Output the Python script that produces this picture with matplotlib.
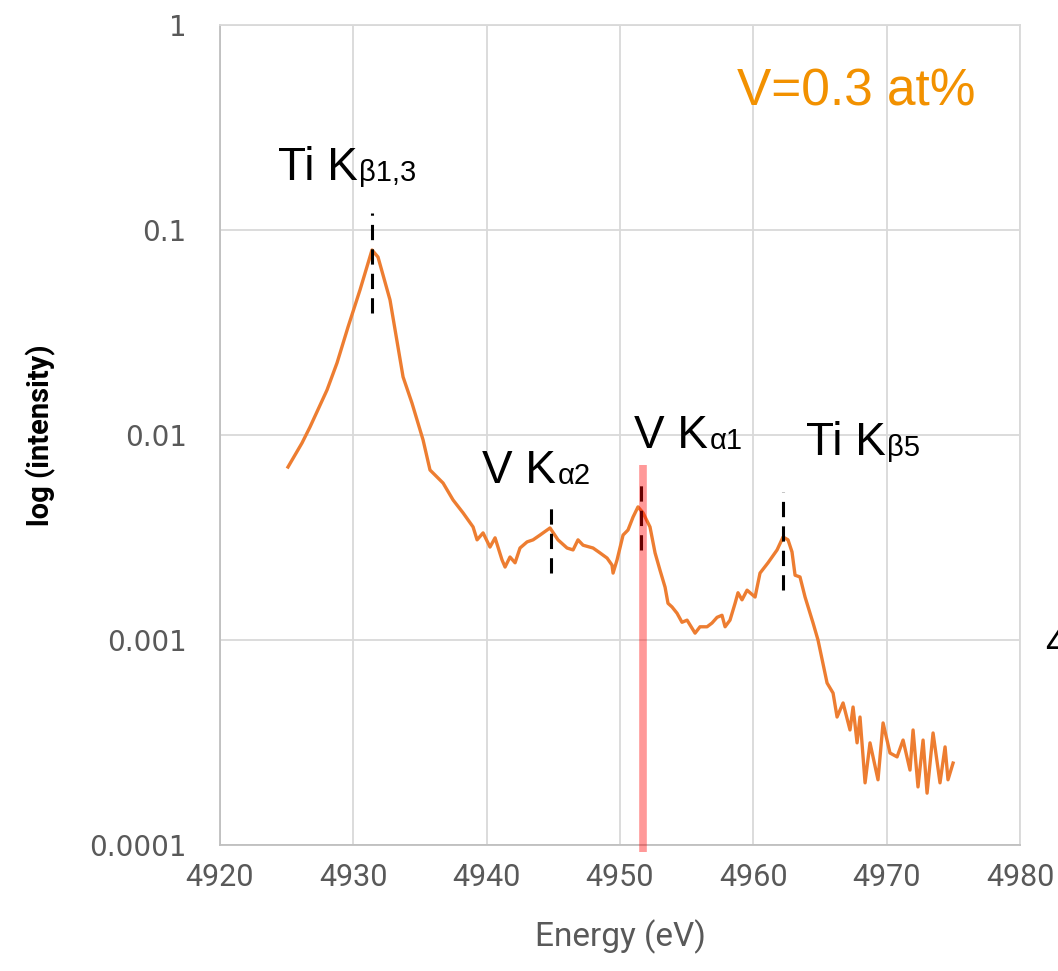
import numpy as np
import matplotlib
matplotlib.use("Agg")
import matplotlib.pyplot as plt

# espectro (energia en eV, intensidad)
energia = [4925.10, 4926.15, 4926.75, 4928.03, 4928.78, 4929.60, 4930.50, 4931.40,
           4931.85, 4932.75, 4933.73, 4934.40, 4935.23, 4935.75, 4936.73, 4937.48,
           4938.23, 4938.98, 4939.28, 4939.73, 4940.25, 4940.63, 4941.15, 4941.38,
           4941.75, 4942.13, 4942.50, 4943.03, 4943.48, 4944.00, 4944.75, 4945.35,
           4946.03, 4946.48, 4946.85, 4947.23, 4947.98, 4948.50, 4949.03, 4949.40,
           4949.48, 4949.78, 4950.23, 4950.60, 4950.98, 4951.35, 4951.73, 4952.25,
           4952.63, 4953.00, 4953.38, 4953.60, 4953.90, 4954.28, 4954.65, 4955.03,
           4955.63, 4956.00, 4956.53, 4956.90, 4957.28, 4957.65, 4957.88, 4958.25,
           4958.63, 4958.85, 4959.15, 4959.53, 4960.13, 4960.50, 4961.10, 4961.78,
           4962.23, 4962.60, 4962.90, 4963.13, 4963.50, 4963.88, 4964.48, 4964.85,
           4965.53, 4965.98, 4966.28, 4966.73, 4967.25, 4967.48, 4967.78, 4968.00,
           4968.38, 4968.75, 4969.35, 4969.73, 4970.25, 4970.78, 4971.23, 4971.75,
           4971.98, 4972.35, 4972.73, 4973.03, 4973.48, 4974.00, 4974.38, 4974.60,
           4974.98]
intensidad = [0.00698, 0.00914, 0.01094, 0.0166, 0.0225, 0.0336, 0.0510, 0.0799,
              0.0738, 0.0456, 0.0192, 0.0143, 0.00946, 0.00675, 0.00583, 0.00482,
              0.00417, 0.00356, 0.00308, 0.00333, 0.00284, 0.00315, 0.00246, 0.00227,
              0.00254, 0.00238, 0.00281, 0.00301, 0.00308, 0.00325, 0.00352, 0.00308,
              0.00281, 0.00275, 0.00308, 0.00290, 0.00281, 0.00266, 0.00251, 0.00232,
              0.00212, 0.00246, 0.00325, 0.00344, 0.00398, 0.00446, 0.00417, 0.00356,
              0.00266, 0.00219, 0.00181, 0.00151, 0.00145, 0.00135, 0.00122, 0.00125,
              0.00108, 0.00116, 0.00116, 0.00121, 0.00129, 0.00132, 0.00116, 0.00125,
              0.00151, 0.00170, 0.00157, 0.00175, 0.00162, 0.00212, 0.00238, 0.00275,
              0.00318, 0.00308, 0.00269, 0.00207, 0.00203, 0.00162, 0.00121, 0.00100,
              0.000617, 0.000551, 0.000421, 0.000493, 0.000364, 0.000471, 0.000315, 0.000421,
              0.000201, 0.000315, 0.000208, 0.000394, 0.000281, 0.000269, 0.000325, 0.000232,
              0.000364, 0.000192, 0.000325, 0.000179, 0.000352, 0.000201, 0.000301, 0.000208,
              0.000251]

# lineas de referencia (posicion, extremo superior, extremo inferior)
picos_e = [4931.4, 4944.8, 4951.58, 4962.2]
picos_sup = [0.121, 0.00471, 0.00603, 0.00527]
picos_inf = [0.0394, 0.00212, 0.00275, 0.00175]

# etiquetas: texto, subindice, x, y (linea base)
etiq_txt = ["Ti K", "V K", "V K", "Ti K"]
etiq_sub = ["β1,3", "α2", "α1", "β5"]
etiq_x = [4924.35, 4939.65, 4951.05, 4963.95]
etiq_y = [0.175, 0.00583, 0.00864, 0.00798]

linea_roja_e = 4951.7
linea_roja_sup = 0.00714
linea_roja_inf = 9.2e-5

x_ticks = [4920, 4930, 4940, 4950, 4960, 4970, 4980]
y_ticks = [1e-4, 1e-3, 1e-2, 1e-1, 1]
y_labels = ["0.0001", "0.001", "0.01", "0.1", "1"]

gris = "#D9D9D9"
naranja = "#ED7D31"
angosta = ["Liberation Sans Narrow", "Roboto", "DejaVu Sans"]

fig = plt.figure(figsize=(10.58, 9.71), dpi=100)
ax = fig.add_axes([220 / 1058, 1 - 845 / 971, 800 / 1058, 820 / 971])

ax.plot(energia, intensidad, color=naranja, lw=2.4, zorder=3)

for e, s, i in zip(picos_e, picos_sup, picos_inf):
    ax.plot([e, e], [i, s], color="black", lw=2.2, dashes=(5, 3), zorder=4)

# linea roja semitransparente por encima de las marcas
ax.plot([linea_roja_e, linea_roja_e], [linea_roja_inf, linea_roja_sup],
        color="red", alpha=0.4, lw=5.5, zorder=6, clip_on=False, solid_capstyle="butt")

ax.set_yscale("log")
ax.set_xlim(4920, 4980)
ax.set_ylim(1e-4, 1)
ax.set_xticks(x_ticks)
ax.set_xticklabels([str(v) for v in x_ticks])
ax.set_yticks(y_ticks)
ax.set_yticklabels(y_labels)
ax.minorticks_off()
ax.tick_params(length=0, colors="#595959")
ax.tick_params(axis="y", pad=24, labelsize=20)
ax.tick_params(axis="x", pad=13, labelsize=22)
for lab in ax.get_yticklabels():
    lab.set_family(["DejaVu Sans"])
for lab in ax.get_xticklabels():
    lab.set_family(angosta)

ax.grid(True, color=gris, lw=1.3, zorder=1)
ax.set_axisbelow(True)
for sp in ax.spines.values():
    sp.set_color(gris)
    sp.set_linewidth(1.3)
ax.spines["left"].set_color("#BFBFBF")
ax.spines["bottom"].set_color("#BFBFBF")

ax.set_xlabel("Energy (eV)", fontsize=24, color="#595959", labelpad=20, family=angosta)
ax.set_ylabel("log (intensity)", fontsize=21, fontweight="bold", color="black",
              labelpad=24, family=angosta)

for txt, sub, x, y in zip(etiq_txt, etiq_sub, etiq_x, etiq_y):
    t = ax.text(x, y, txt, fontsize=33, family="Liberation Sans", va="baseline", zorder=5)
    ax.annotate(sub, xy=(1, 0), xycoords=t, xytext=(1, 2), textcoords="offset points",
                fontsize=21, family="Liberation Sans", va="bottom", ha="left", zorder=5)

ax.text(4958.78, 0.407, "V=0.3 at%", fontsize=37, family="Liberation Sans",
        color="#F29100", va="baseline")

# trozo del panel vecino que asoma por la derecha
fig.text(1045 / 1058, 1 - 645 / 971, "4", fontsize=28, family="Liberation Sans",
         va="center", ha="left")

fig.savefig("out.png", dpi=100)
